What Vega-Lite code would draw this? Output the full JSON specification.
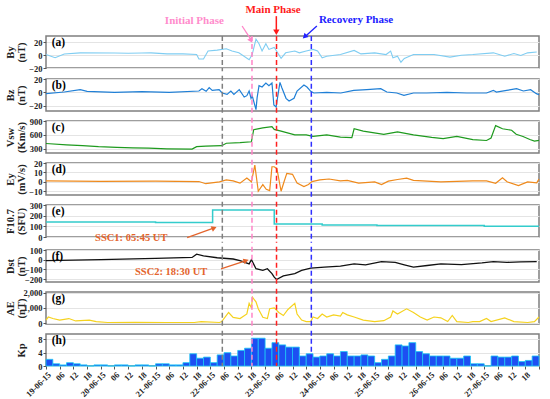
{
"$schema":"https://vega.github.io/schema/vega-lite/v6.json",
"background":"white",
"padding":{"left":4,"top":3,"right":5,"bottom":2},
"config":{
 "view":{"stroke":"#7f7f7f","strokeWidth":1.5},
 "concat":{"spacing":0},
 "axis":{"labelFont":"Liberation Serif","labelFontWeight":"bold","labelFontSize":8.5,"labelColor":"#222","titleFont":"Liberation Serif","titleFontWeight":"bold","titleFontSize":10.5,"titleLineHeight":11,"titleColor":"#222","gridColor":"#e4e4e4","domain":false,"tickColor":"#555","tickSize":3,"labelPadding":1,"titlePadding":2},
 "text":{"font":"Liberation Serif","fontWeight":"bold"}
},
"datasets":{
"events":[{"t":"2015-06-22T05:15","c":"g"},{"t":"2015-06-22T18:15","c":"p"},{"t":"2015-06-23T05:00","c":"r"},{"t":"2015-06-23T20:15","c":"b"}],
"by":[{"t":"2015-06-19T00:00","v":1},{"t":"2015-06-19T04:00","v":-4},{"t":"2015-06-19T08:00","v":2},{"t":"2015-06-19T15:00","v":3.7},{"t":"2015-06-20T06:00","v":3.5},{"t":"2015-06-20T12:00","v":3},{"t":"2015-06-20T18:00","v":3.5},{"t":"2015-06-20T22:00","v":3.7},{"t":"2015-06-21T05:00","v":2},{"t":"2015-06-21T12:00","v":2},{"t":"2015-06-21T18:00","v":1},{"t":"2015-06-21T19:00","v":-6},{"t":"2015-06-21T21:00","v":-6},{"t":"2015-06-21T23:00","v":6.5},{"t":"2015-06-22T03:00","v":8},{"t":"2015-06-22T07:00","v":10},{"t":"2015-06-22T09:30","v":6.5},{"t":"2015-06-22T12:30","v":3.7},{"t":"2015-06-22T17:00","v":-7},{"t":"2015-06-22T18:20","v":1},{"t":"2015-06-22T20:00","v":25},{"t":"2015-06-22T21:20","v":18},{"t":"2015-06-22T22:40","v":6.5},{"t":"2015-06-23T00:20","v":18},{"t":"2015-06-23T01:40","v":9},{"t":"2015-06-23T04:00","v":12},{"t":"2015-06-23T05:00","v":6.5},{"t":"2015-06-23T07:00","v":-5},{"t":"2015-06-23T09:00","v":3.7},{"t":"2015-06-23T13:00","v":6.5},{"t":"2015-06-23T15:00","v":3.7},{"t":"2015-06-23T18:00","v":6.5},{"t":"2015-06-23T21:00","v":9},{"t":"2015-06-23T23:00","v":6.5},{"t":"2015-06-24T01:00","v":-4},{"t":"2015-06-24T03:00","v":-1.6},{"t":"2015-06-24T09:00","v":1},{"t":"2015-06-24T15:00","v":7.5},{"t":"2015-06-24T18:00","v":2},{"t":"2015-06-25T00:00","v":3.7},{"t":"2015-06-25T05:00","v":1},{"t":"2015-06-25T07:00","v":6.5},{"t":"2015-06-25T08:00","v":-4},{"t":"2015-06-25T10:00","v":-1.6},{"t":"2015-06-25T11:30","v":-11},{"t":"2015-06-25T13:00","v":-5},{"t":"2015-06-25T17:00","v":1},{"t":"2015-06-26T02:00","v":1},{"t":"2015-06-26T09:00","v":-3},{"t":"2015-06-26T14:00","v":0},{"t":"2015-06-26T19:00","v":1},{"t":"2015-06-27T04:00","v":3.7},{"t":"2015-06-27T09:00","v":-1.6},{"t":"2015-06-27T13:00","v":2.7},{"t":"2015-06-27T16:00","v":-0.5},{"t":"2015-06-27T19:00","v":3.7},{"t":"2015-06-27T23:00","v":5}],
"bz":[{"t":"2015-06-19T00:00","v":-2},{"t":"2015-06-19T08:00","v":0.5},{"t":"2015-06-19T15:00","v":4},{"t":"2015-06-19T18:00","v":1.5},{"t":"2015-06-20T06:00","v":0},{"t":"2015-06-20T18:00","v":1},{"t":"2015-06-21T06:00","v":0},{"t":"2015-06-21T19:00","v":2},{"t":"2015-06-21T20:20","v":5.5},{"t":"2015-06-21T22:10","v":1.5},{"t":"2015-06-21T23:30","v":7},{"t":"2015-06-22T00:50","v":3},{"t":"2015-06-22T03:50","v":4},{"t":"2015-06-22T05:10","v":-1},{"t":"2015-06-22T07:20","v":-3},{"t":"2015-06-22T09:00","v":2},{"t":"2015-06-22T10:20","v":-3},{"t":"2015-06-22T12:40","v":4},{"t":"2015-06-22T14:50","v":-7},{"t":"2015-06-22T16:00","v":-5},{"t":"2015-06-22T17:00","v":2},{"t":"2015-06-22T17:50","v":-9},{"t":"2015-06-22T18:20","v":-5},{"t":"2015-06-22T20:00","v":-26},{"t":"2015-06-22T20:30","v":-8},{"t":"2015-06-22T21:20","v":10},{"t":"2015-06-22T22:40","v":8},{"t":"2015-06-23T00:20","v":14},{"t":"2015-06-23T01:40","v":10},{"t":"2015-06-23T03:00","v":14},{"t":"2015-06-23T03:50","v":-19},{"t":"2015-06-23T04:50","v":-22},{"t":"2015-06-23T05:10","v":-14},{"t":"2015-06-23T06:30","v":15},{"t":"2015-06-23T07:20","v":7},{"t":"2015-06-23T09:10","v":-9},{"t":"2015-06-23T10:30","v":-13},{"t":"2015-06-23T12:40","v":-9},{"t":"2015-06-23T14:00","v":2},{"t":"2015-06-23T17:00","v":11},{"t":"2015-06-23T18:20","v":8},{"t":"2015-06-23T20:00","v":1.5},{"t":"2015-06-23T21:20","v":-1},{"t":"2015-06-24T03:00","v":0},{"t":"2015-06-24T09:10","v":-1},{"t":"2015-06-24T14:50","v":3},{"t":"2015-06-24T20:30","v":4},{"t":"2015-06-25T02:40","v":5.5},{"t":"2015-06-25T05:20","v":0.5},{"t":"2015-06-25T09:40","v":-1},{"t":"2015-06-25T12:50","v":-4.5},{"t":"2015-06-25T17:00","v":-1},{"t":"2015-06-25T22:50","v":-1},{"t":"2015-06-26T07:40","v":0},{"t":"2015-06-26T16:20","v":-1},{"t":"2015-06-27T01:00","v":-1},{"t":"2015-06-27T04:00","v":3},{"t":"2015-06-27T05:20","v":0.5},{"t":"2015-06-27T09:50","v":3},{"t":"2015-06-27T14:10","v":5.5},{"t":"2015-06-27T17:10","v":2},{"t":"2015-06-27T20:20","v":4},{"t":"2015-06-27T22:50","v":-2},{"t":"2015-06-28T00:00","v":-3.5}],
"vsw":[{"t":"2015-06-19T00:00","v":415},{"t":"2015-06-19T09:00","v":387},{"t":"2015-06-19T16:00","v":367},{"t":"2015-06-19T23:00","v":347},{"t":"2015-06-20T07:00","v":333},{"t":"2015-06-20T14:00","v":320},{"t":"2015-06-20T21:00","v":313},{"t":"2015-06-21T05:00","v":300},{"t":"2015-06-21T16:00","v":293},{"t":"2015-06-21T18:00","v":347},{"t":"2015-06-21T22:00","v":360},{"t":"2015-06-22T05:00","v":367},{"t":"2015-06-22T07:00","v":420},{"t":"2015-06-22T13:00","v":433},{"t":"2015-06-22T18:00","v":453},{"t":"2015-06-22T19:00","v":713},{"t":"2015-06-22T23:00","v":753},{"t":"2015-06-23T03:00","v":780},{"t":"2015-06-23T04:00","v":720},{"t":"2015-06-23T07:00","v":680},{"t":"2015-06-23T13:00","v":600},{"t":"2015-06-23T18:00","v":600},{"t":"2015-06-23T21:00","v":567},{"t":"2015-06-24T03:00","v":600},{"t":"2015-06-24T09:00","v":553},{"t":"2015-06-24T14:00","v":540},{"t":"2015-06-24T15:00","v":733},{"t":"2015-06-24T19:00","v":680},{"t":"2015-06-25T04:00","v":613},{"t":"2015-06-25T10:00","v":667},{"t":"2015-06-25T17:00","v":600},{"t":"2015-06-26T01:00","v":547},{"t":"2015-06-26T06:00","v":520},{"t":"2015-06-26T12:00","v":567},{"t":"2015-06-26T19:00","v":500},{"t":"2015-06-27T01:00","v":480},{"t":"2015-06-27T03:00","v":533},{"t":"2015-06-27T05:00","v":800},{"t":"2015-06-27T08:00","v":733},{"t":"2015-06-27T12:00","v":700},{"t":"2015-06-27T14:00","v":613},{"t":"2015-06-27T17:00","v":567},{"t":"2015-06-27T20:00","v":500},{"t":"2015-06-27T22:00","v":467},{"t":"2015-06-28T00:00","v":483}],
"ey":[{"t":"2015-06-19T00:00","v":1},{"t":"2015-06-20T00:00","v":0.5},{"t":"2015-06-21T00:00","v":0.8},{"t":"2015-06-21T19:00","v":0.3},{"t":"2015-06-21T22:00","v":-2},{"t":"2015-06-22T04:00","v":0},{"t":"2015-06-22T07:00","v":2},{"t":"2015-06-22T10:00","v":1},{"t":"2015-06-22T13:00","v":-1.4},{"t":"2015-06-22T16:00","v":4},{"t":"2015-06-22T18:00","v":0},{"t":"2015-06-22T19:30","v":17.7},{"t":"2015-06-22T21:00","v":-10},{"t":"2015-06-22T23:00","v":-3},{"t":"2015-06-23T00:30","v":-8},{"t":"2015-06-23T02:00","v":-9.4},{"t":"2015-06-23T03:00","v":16},{"t":"2015-06-23T04:00","v":16},{"t":"2015-06-23T05:10","v":14},{"t":"2015-06-23T07:00","v":-10},{"t":"2015-06-23T08:20","v":0.3},{"t":"2015-06-23T09:30","v":9},{"t":"2015-06-23T12:00","v":8},{"t":"2015-06-23T14:00","v":-1.4},{"t":"2015-06-23T17:00","v":-5},{"t":"2015-06-23T19:00","v":-2.8},{"t":"2015-06-23T20:30","v":0.3},{"t":"2015-06-24T00:00","v":2},{"t":"2015-06-24T04:00","v":3},{"t":"2015-06-24T09:00","v":1},{"t":"2015-06-24T12:00","v":1.5},{"t":"2015-06-24T17:00","v":-1.4},{"t":"2015-06-25T00:00","v":0},{"t":"2015-06-25T03:00","v":-3},{"t":"2015-06-25T06:00","v":0.7},{"t":"2015-06-25T10:00","v":2.5},{"t":"2015-06-25T14:00","v":4},{"t":"2015-06-25T17:00","v":1.5},{"t":"2015-06-26T05:00","v":0},{"t":"2015-06-26T19:00","v":1},{"t":"2015-06-27T01:00","v":1},{"t":"2015-06-27T05:00","v":-1.5},{"t":"2015-06-27T08:00","v":4.2},{"t":"2015-06-27T10:00","v":0},{"t":"2015-06-27T15:00","v":-4},{"t":"2015-06-27T19:00","v":0},{"t":"2015-06-27T23:00","v":-1},{"t":"2015-06-28T00:00","v":3}],
"f107":[{"t":"2015-06-19T00:00","v":140},{"t":"2015-06-21T00:00","v":136},{"t":"2015-06-22T01:00","v":252},{"t":"2015-06-23T04:00","v":122},{"t":"2015-06-24T01:00","v":113},{"t":"2015-06-25T01:00","v":107},{"t":"2015-06-27T00:00","v":100},{"t":"2015-06-28T00:00","v":100}],
"dst":[{"t":"2015-06-19T00:00","v":-10},{"t":"2015-06-19T12:00","v":-5},{"t":"2015-06-20T00:00","v":0},{"t":"2015-06-21T00:00","v":13},{"t":"2015-06-21T16:00","v":23},{"t":"2015-06-21T18:00","v":57},{"t":"2015-06-21T21:00","v":40},{"t":"2015-06-22T03:00","v":20},{"t":"2015-06-22T10:00","v":7},{"t":"2015-06-22T13:00","v":-10},{"t":"2015-06-22T17:00","v":-43},{"t":"2015-06-22T18:00","v":0},{"t":"2015-06-22T20:00","v":-93},{"t":"2015-06-22T23:00","v":-110},{"t":"2015-06-23T01:00","v":-93},{"t":"2015-06-23T03:00","v":-143},{"t":"2015-06-23T04:00","v":-180},{"t":"2015-06-23T05:00","v":-204},{"t":"2015-06-23T08:00","v":-167},{"t":"2015-06-23T13:00","v":-143},{"t":"2015-06-23T16:00","v":-110},{"t":"2015-06-23T20:00","v":-87},{"t":"2015-06-24T02:00","v":-77},{"t":"2015-06-24T09:00","v":-67},{"t":"2015-06-24T15:00","v":-43},{"t":"2015-06-24T20:00","v":-53},{"t":"2015-06-25T03:00","v":-20},{"t":"2015-06-25T09:00","v":-27},{"t":"2015-06-25T13:00","v":-53},{"t":"2015-06-25T17:00","v":-77},{"t":"2015-06-25T23:00","v":-60},{"t":"2015-06-26T05:00","v":-43},{"t":"2015-06-26T14:00","v":-50},{"t":"2015-06-26T23:00","v":-33},{"t":"2015-06-27T04:00","v":-20},{"t":"2015-06-27T10:00","v":-27},{"t":"2015-06-27T16:00","v":-23},{"t":"2015-06-27T23:00","v":-20}],
"ae":[{"t":"2015-06-19T00:00","v":200},{"t":"2015-06-19T01:00","v":400},{"t":"2015-06-19T03:00","v":300},{"t":"2015-06-19T06:00","v":200},{"t":"2015-06-19T10:00","v":300},{"t":"2015-06-19T13:00","v":140},{"t":"2015-06-19T19:00","v":200},{"t":"2015-06-19T22:00","v":100},{"t":"2015-06-20T03:00","v":40},{"t":"2015-06-20T15:00","v":50},{"t":"2015-06-21T05:00","v":40},{"t":"2015-06-21T17:00","v":40},{"t":"2015-06-21T20:00","v":100},{"t":"2015-06-22T04:00","v":40},{"t":"2015-06-22T05:00","v":100},{"t":"2015-06-22T08:00","v":700},{"t":"2015-06-22T10:00","v":380},{"t":"2015-06-22T13:00","v":300},{"t":"2015-06-22T16:00","v":600},{"t":"2015-06-22T17:00","v":1300},{"t":"2015-06-22T18:00","v":1000},{"t":"2015-06-22T18:30","v":1700},{"t":"2015-06-22T20:00","v":1400},{"t":"2015-06-22T21:00","v":950},{"t":"2015-06-22T23:00","v":380},{"t":"2015-06-23T01:00","v":300},{"t":"2015-06-23T02:00","v":950},{"t":"2015-06-23T04:00","v":1000},{"t":"2015-06-23T06:00","v":700},{"t":"2015-06-23T08:00","v":500},{"t":"2015-06-23T10:00","v":900},{"t":"2015-06-23T13:00","v":1300},{"t":"2015-06-23T14:00","v":600},{"t":"2015-06-23T16:00","v":200},{"t":"2015-06-23T18:00","v":100},{"t":"2015-06-23T20:00","v":100},{"t":"2015-06-23T21:00","v":400},{"t":"2015-06-23T23:00","v":300},{"t":"2015-06-24T01:00","v":600},{"t":"2015-06-24T03:00","v":400},{"t":"2015-06-24T06:00","v":540},{"t":"2015-06-24T09:00","v":460},{"t":"2015-06-24T10:00","v":700},{"t":"2015-06-24T12:00","v":540},{"t":"2015-06-24T15:00","v":400},{"t":"2015-06-24T19:00","v":200},{"t":"2015-06-25T00:00","v":100},{"t":"2015-06-25T04:00","v":160},{"t":"2015-06-25T07:00","v":400},{"t":"2015-06-25T08:00","v":800},{"t":"2015-06-25T10:00","v":600},{"t":"2015-06-25T14:00","v":940},{"t":"2015-06-25T17:00","v":700},{"t":"2015-06-25T20:00","v":400},{"t":"2015-06-25T23:00","v":200},{"t":"2015-06-26T02:00","v":400},{"t":"2015-06-26T05:00","v":350},{"t":"2015-06-26T08:00","v":100},{"t":"2015-06-26T10:00","v":500},{"t":"2015-06-26T12:00","v":100},{"t":"2015-06-26T17:00","v":40},{"t":"2015-06-26T19:00","v":100},{"t":"2015-06-26T22:00","v":100},{"t":"2015-06-27T01:00","v":300},{"t":"2015-06-27T03:00","v":100},{"t":"2015-06-27T09:00","v":340},{"t":"2015-06-27T13:00","v":100},{"t":"2015-06-27T19:00","v":40},{"t":"2015-06-27T22:00","v":100},{"t":"2015-06-28T00:00","v":400}],
"kp":[{"t":"2015-06-19T00:00","e":"2015-06-19T03:00","v":2},{"t":"2015-06-19T03:00","e":"2015-06-19T06:00","v":0.67},{"t":"2015-06-19T06:00","e":"2015-06-19T09:00","v":0.33},{"t":"2015-06-19T09:00","e":"2015-06-19T12:00","v":1},{"t":"2015-06-19T12:00","e":"2015-06-19T15:00","v":0.67},{"t":"2015-06-19T15:00","e":"2015-06-19T18:00","v":0.33},{"t":"2015-06-19T18:00","e":"2015-06-19T21:00","v":0},{"t":"2015-06-19T21:00","e":"2015-06-20T00:00","v":0.33},
{"t":"2015-06-20T00:00","e":"2015-06-20T03:00","v":0.33},{"t":"2015-06-20T03:00","e":"2015-06-20T06:00","v":0},{"t":"2015-06-20T06:00","e":"2015-06-20T09:00","v":0.33},{"t":"2015-06-20T09:00","e":"2015-06-20T12:00","v":0.33},{"t":"2015-06-20T12:00","e":"2015-06-20T15:00","v":0},{"t":"2015-06-20T15:00","e":"2015-06-20T18:00","v":0.33},{"t":"2015-06-20T18:00","e":"2015-06-20T21:00","v":0.33},{"t":"2015-06-20T21:00","e":"2015-06-21T00:00","v":0},
{"t":"2015-06-21T00:00","e":"2015-06-21T03:00","v":0.67},{"t":"2015-06-21T03:00","e":"2015-06-21T06:00","v":0.67},{"t":"2015-06-21T06:00","e":"2015-06-21T09:00","v":0.33},{"t":"2015-06-21T09:00","e":"2015-06-21T12:00","v":0.33},{"t":"2015-06-21T12:00","e":"2015-06-21T15:00","v":1},{"t":"2015-06-21T15:00","e":"2015-06-21T18:00","v":3.67},{"t":"2015-06-21T18:00","e":"2015-06-21T21:00","v":2.33},{"t":"2015-06-21T21:00","e":"2015-06-22T00:00","v":2.67},
{"t":"2015-06-22T00:00","e":"2015-06-22T03:00","v":1},{"t":"2015-06-22T03:00","e":"2015-06-22T06:00","v":3.33},{"t":"2015-06-22T06:00","e":"2015-06-22T09:00","v":4},{"t":"2015-06-22T09:00","e":"2015-06-22T12:00","v":3},{"t":"2015-06-22T12:00","e":"2015-06-22T15:00","v":4.67},{"t":"2015-06-22T15:00","e":"2015-06-22T18:00","v":5.33},{"t":"2015-06-22T18:00","e":"2015-06-22T21:00","v":8.33},{"t":"2015-06-22T21:00","e":"2015-06-23T00:00","v":8.33},
{"t":"2015-06-23T00:00","e":"2015-06-23T03:00","v":5.33},{"t":"2015-06-23T03:00","e":"2015-06-23T06:00","v":7},{"t":"2015-06-23T06:00","e":"2015-06-23T09:00","v":6.33},{"t":"2015-06-23T09:00","e":"2015-06-23T12:00","v":5.67},{"t":"2015-06-23T12:00","e":"2015-06-23T15:00","v":5.67},{"t":"2015-06-23T15:00","e":"2015-06-23T18:00","v":3},{"t":"2015-06-23T18:00","e":"2015-06-23T21:00","v":3.67},{"t":"2015-06-23T21:00","e":"2015-06-24T00:00","v":2.67},
{"t":"2015-06-24T00:00","e":"2015-06-24T03:00","v":3},{"t":"2015-06-24T03:00","e":"2015-06-24T06:00","v":3.67},{"t":"2015-06-24T06:00","e":"2015-06-24T09:00","v":3},{"t":"2015-06-24T09:00","e":"2015-06-24T12:00","v":4.33},{"t":"2015-06-24T12:00","e":"2015-06-24T15:00","v":3},{"t":"2015-06-24T15:00","e":"2015-06-24T18:00","v":3},{"t":"2015-06-24T18:00","e":"2015-06-24T21:00","v":3.33},{"t":"2015-06-24T21:00","e":"2015-06-25T00:00","v":3},
{"t":"2015-06-25T00:00","e":"2015-06-25T03:00","v":1},{"t":"2015-06-25T03:00","e":"2015-06-25T06:00","v":2},{"t":"2015-06-25T06:00","e":"2015-06-25T09:00","v":3},{"t":"2015-06-25T09:00","e":"2015-06-25T12:00","v":6.33},{"t":"2015-06-25T12:00","e":"2015-06-25T15:00","v":6},{"t":"2015-06-25T15:00","e":"2015-06-25T18:00","v":7},{"t":"2015-06-25T18:00","e":"2015-06-25T21:00","v":4.33},{"t":"2015-06-25T21:00","e":"2015-06-26T00:00","v":3.67},
{"t":"2015-06-26T00:00","e":"2015-06-26T03:00","v":3},{"t":"2015-06-26T03:00","e":"2015-06-26T06:00","v":3},{"t":"2015-06-26T06:00","e":"2015-06-26T09:00","v":3},{"t":"2015-06-26T09:00","e":"2015-06-26T12:00","v":2.33},{"t":"2015-06-26T12:00","e":"2015-06-26T15:00","v":2.33},{"t":"2015-06-26T15:00","e":"2015-06-26T18:00","v":3},{"t":"2015-06-26T18:00","e":"2015-06-26T21:00","v":0.67},{"t":"2015-06-26T21:00","e":"2015-06-27T00:00","v":0.67},
{"t":"2015-06-27T00:00","e":"2015-06-27T03:00","v":0},{"t":"2015-06-27T03:00","e":"2015-06-27T06:00","v":3},{"t":"2015-06-27T06:00","e":"2015-06-27T09:00","v":2.67},{"t":"2015-06-27T09:00","e":"2015-06-27T12:00","v":2.67},{"t":"2015-06-27T12:00","e":"2015-06-27T15:00","v":3},{"t":"2015-06-27T15:00","e":"2015-06-27T18:00","v":1.33},{"t":"2015-06-27T18:00","e":"2015-06-27T21:00","v":1.67},{"t":"2015-06-27T21:00","e":"2015-06-28T00:00","v":3}]
},
"vconcat":[
{"width":493,"height":32,"resolve":{"axis":{"x":"independent","y":"independent"}},"layer":[
 {"data":{"name":"by"},"mark":{"type":"line","color":"#7fcdf2","strokeWidth":1.1},"encoding":{"x":{"field":"t","type":"temporal","scale":{"domain":["2015-06-19T00:00","2015-06-28T00:00"]},"axis":null},"y":{"field":"v","type":"quantitative","scale":{"domain":[-20,30],"nice":false,"zero":false},"axis":{"values":[-20,0,20],"title":["By","(nT)"],"minExtent":18,"maxExtent":18}}}},
 {"data":{"name":"events"},"mark":{"type":"rule","strokeDash":[5,3],"strokeWidth":1.5},"encoding":{"x":{"field":"t","type":"temporal","axis":null},"y":{"datum":30,"axis":null},"y2":{"datum":-25},"color":{"field":"c","type":"nominal","scale":{"domain":["g","p","r","b"],"range":["#7f7f7f","#ff85c8","#ff2020","#3030ff"]},"legend":null}}},
 {"data":{"values":[{"t":"2015-06-19T02:30","s":"(a)"}]},"mark":{"type":"text","align":"left","baseline":"middle","fontSize":11.5},"encoding":{"x":{"field":"t","type":"temporal","axis":null},"y":{"datum":19,"axis":null},"text":{"field":"s"}}},
 {"data":{"values":[{"t":"2015-06-21T17:00","s":"Initial Phase"}]},"mark":{"type":"text","baseline":"middle","fontSize":11,"color":"#ff8ccc"},"encoding":{"x":{"field":"t","type":"temporal","axis":null},"y":{"datum":52.7,"axis":null},"text":{"field":"s"}}},
 {"data":{"values":[{"t":"2015-06-23T03:30","s":"Main Phase"}]},"mark":{"type":"text","baseline":"middle","fontSize":11,"color":"#ff1a1a"},"encoding":{"x":{"field":"t","type":"temporal","axis":null},"y":{"datum":70.6,"axis":null},"text":{"field":"s"}}},
 {"data":{"values":[{"t":"2015-06-24T15:50","s":"Recovery Phase"}]},"mark":{"type":"text","baseline":"middle","fontSize":11,"color":"#2020ff"},"encoding":{"x":{"field":"t","type":"temporal","axis":null},"y":{"datum":54.5,"axis":null},"text":{"field":"s"}}},
 {"data":{"values":[{"t1":"2015-06-22T13:55","t2":"2015-06-22T17:40"}]},"mark":{"type":"rule","color":"#ff85c8","strokeWidth":1.3},"encoding":{"x":{"field":"t1","type":"temporal","axis":null},"x2":{"field":"t2"},"y":{"datum":45.6,"axis":null},"y2":{"datum":25}}},
 {"data":{"values":[{"t":"2015-06-22T17:50"}]},"mark":{"type":"point","shape":"triangle-up","filled":true,"size":35,"angle":150,"color":"#ff85c8","opacity":1},"encoding":{"x":{"field":"t","type":"temporal","axis":null},"y":{"datum":23,"axis":null}}},
 {"data":{"values":[{"t1":"2015-06-23T04:55","t2":"2015-06-23T04:55"}]},"mark":{"type":"rule","color":"#ff1a1a","strokeWidth":1.5},"encoding":{"x":{"field":"t1","type":"temporal","axis":null},"x2":{"field":"t2"},"y":{"datum":61,"axis":null},"y2":{"datum":38}}},
 {"data":{"values":[{"t":"2015-06-23T04:55"}]},"mark":{"type":"point","shape":"triangle-up","filled":true,"size":40,"angle":180,"color":"#ff1a1a","opacity":1},"encoding":{"x":{"field":"t","type":"temporal","axis":null},"y":{"datum":36,"axis":null}}},
 {"data":{"values":[{"t1":"2015-06-23T22:40","t2":"2015-06-23T17:50"}]},"mark":{"type":"rule","color":"#2020ff","strokeWidth":1.3},"encoding":{"x":{"field":"t1","type":"temporal","axis":null},"x2":{"field":"t2"},"y":{"datum":45.6,"axis":null},"y2":{"datum":30}}},
 {"data":{"values":[{"t":"2015-06-23T17:20"}]},"mark":{"type":"point","shape":"triangle-up","filled":true,"size":35,"angle":227,"color":"#2020ff","opacity":1},"encoding":{"x":{"field":"t","type":"temporal","axis":null},"y":{"datum":29,"axis":null}}}
]},
{"width":493,"height":32,"resolve":{"axis":{"x":"independent","y":"independent"}},"layer":[
 {"data":{"name":"bz"},"mark":{"type":"line","color":"#1f7fd6","strokeWidth":1.2},"encoding":{"x":{"field":"t","type":"temporal","scale":{"domain":["2015-06-19T00:00","2015-06-28T00:00"]},"axis":null},"y":{"field":"v","type":"quantitative","scale":{"domain":[-28,20],"nice":false,"zero":false},"axis":{"values":[-20,0,20],"title":["Bz","(nT)"],"minExtent":18,"maxExtent":18}}}},
 {"data":{"name":"events"},"mark":{"type":"rule","strokeDash":[5,3],"strokeWidth":1.5},"encoding":{"x":{"field":"t","type":"temporal","axis":null},"y":{"datum":24.8,"axis":null},"y2":{"datum":-32.8},"color":{"field":"c","type":"nominal","scale":{"domain":["g","p","r","b"],"range":["#7f7f7f","#ff85c8","#ff2020","#3030ff"]},"legend":null}}},
 {"data":{"values":[{"t":"2015-06-19T02:30","s":"(b)"}]},"mark":{"type":"text","align":"left","baseline":"middle","fontSize":11.5},"encoding":{"x":{"field":"t","type":"temporal","axis":null},"y":{"datum":9.5,"axis":null},"text":{"field":"s"}}}
]},
{"width":493,"height":32,"resolve":{"axis":{"x":"independent","y":"independent"}},"layer":[
 {"data":{"name":"vsw"},"mark":{"type":"line","color":"#1e9a1e","strokeWidth":1.2},"encoding":{"x":{"field":"t","type":"temporal","scale":{"domain":["2015-06-19T00:00","2015-06-28T00:00"]},"axis":null},"y":{"field":"v","type":"quantitative","scale":{"domain":[210,900],"nice":false,"zero":false},"axis":{"values":[300,600,900],"title":["Vsw","(Km/s)"],"minExtent":18,"maxExtent":18}}}},
 {"data":{"name":"events"},"mark":{"type":"rule","strokeDash":[5,3],"strokeWidth":1.5},"encoding":{"x":{"field":"t","type":"temporal","axis":null},"y":{"datum":969,"axis":null},"y2":{"datum":141},"color":{"field":"c","type":"nominal","scale":{"domain":["g","p","r","b"],"range":["#7f7f7f","#ff85c8","#ff2020","#3030ff"]},"legend":null}}},
 {"data":{"values":[{"t":"2015-06-19T02:30","s":"(c)"}]},"mark":{"type":"text","align":"left","baseline":"middle","fontSize":11.5},"encoding":{"x":{"field":"t","type":"temporal","axis":null},"y":{"datum":745,"axis":null},"text":{"field":"s"}}}
]},
{"width":493,"height":32,"resolve":{"axis":{"x":"independent","y":"independent"}},"layer":[
 {"data":{"name":"ey"},"mark":{"type":"line","color":"#ef8a1c","strokeWidth":1.2},"encoding":{"x":{"field":"t","type":"temporal","scale":{"domain":["2015-06-19T00:00","2015-06-28T00:00"]},"axis":null},"y":{"field":"v","type":"quantitative","scale":{"domain":[-14,20],"nice":false,"zero":false},"axis":{"values":[-10,0,10,20],"title":["Ey","(mV/s)"],"minExtent":18,"maxExtent":18}}}},
 {"data":{"name":"events"},"mark":{"type":"rule","strokeDash":[5,3],"strokeWidth":1.5},"encoding":{"x":{"field":"t","type":"temporal","axis":null},"y":{"datum":23.4,"axis":null},"y2":{"datum":-17.4},"color":{"field":"c","type":"nominal","scale":{"domain":["g","p","r","b"],"range":["#7f7f7f","#ff85c8","#ff2020","#3030ff"]},"legend":null}}},
 {"data":{"values":[{"t":"2015-06-19T02:30","s":"(d)"}]},"mark":{"type":"text","align":"left","baseline":"middle","fontSize":11.5},"encoding":{"x":{"field":"t","type":"temporal","axis":null},"y":{"datum":12.5,"axis":null},"text":{"field":"s"}}}
]},
{"width":493,"height":32,"resolve":{"axis":{"x":"independent","y":"independent"}},"layer":[
 {"data":{"name":"f107"},"mark":{"type":"line","color":"#33cccc","strokeWidth":1.5,"interpolate":"step-after"},"encoding":{"x":{"field":"t","type":"temporal","scale":{"domain":["2015-06-19T00:00","2015-06-28T00:00"]},"axis":null},"y":{"field":"v","type":"quantitative","scale":{"domain":[0,300],"nice":false,"zero":false},"axis":{"values":[0,100,200,300],"title":["F10.7","(SFU)"],"minExtent":18,"maxExtent":18}}}},
 {"data":{"name":"events"},"mark":{"type":"rule","strokeDash":[5,3],"strokeWidth":1.5},"encoding":{"x":{"field":"t","type":"temporal","axis":null},"y":{"datum":330,"axis":null},"y2":{"datum":-55},"color":{"field":"c","type":"nominal","scale":{"domain":["g","p","r","b"],"range":["#7f7f7f","#ff85c8","#ff2020","#3030ff"]},"legend":null}}},
 {"data":{"values":[{"t":"2015-06-19T02:30","s":"(e)"}]},"mark":{"type":"text","align":"left","baseline":"middle","fontSize":11.5},"encoding":{"x":{"field":"t","type":"temporal","axis":null},"y":{"datum":232,"axis":null},"text":{"field":"s"}}},
 {"data":{"values":[{"t":"2015-06-20T13:20","s":"SSC1: 05:45 UT"}]},"mark":{"type":"text","baseline":"middle","fontSize":10.5,"color":"#e4642c"},"encoding":{"x":{"field":"t","type":"temporal","axis":null},"y":{"datum":-10,"axis":null},"text":{"field":"s"}}},
 {"data":{"values":[{"t1":"2015-06-21T13:50","t2":"2015-06-22T01:40"}]},"mark":{"type":"rule","color":"#e4642c","strokeWidth":1.2},"encoding":{"x":{"field":"t1","type":"temporal","axis":null},"x2":{"field":"t2"},"y":{"datum":-6,"axis":null},"y2":{"datum":85}}},
 {"data":{"values":[{"t":"2015-06-22T01:40"}]},"mark":{"type":"point","shape":"triangle-up","filled":true,"size":35,"angle":68,"color":"#e4642c","opacity":1},"encoding":{"x":{"field":"t","type":"temporal","axis":null},"y":{"datum":85,"axis":null}}}
]},
{"width":493,"height":32,"resolve":{"axis":{"x":"independent","y":"independent"}},"layer":[
 {"data":{"name":"dst"},"mark":{"type":"line","color":"#111111","strokeWidth":1.3},"encoding":{"x":{"field":"t","type":"temporal","scale":{"domain":["2015-06-19T00:00","2015-06-28T00:00"]},"axis":null},"y":{"field":"v","type":"quantitative","scale":{"domain":[-230,100],"nice":false,"zero":false},"axis":{"values":[-200,-100,0,100],"title":["Dst","(nT)"],"minExtent":18,"maxExtent":18}}}},
 {"data":{"name":"events"},"mark":{"type":"rule","strokeDash":[5,3],"strokeWidth":1.5},"encoding":{"x":{"field":"t","type":"temporal","axis":null},"y":{"datum":133,"axis":null},"y2":{"datum":-263},"color":{"field":"c","type":"nominal","scale":{"domain":["g","p","r","b"],"range":["#7f7f7f","#ff85c8","#ff2020","#3030ff"]},"legend":null}}},
 {"data":{"values":[{"t":"2015-06-19T02:30","s":"(f)"}]},"mark":{"type":"text","align":"left","baseline":"middle","fontSize":11.5},"encoding":{"x":{"field":"t","type":"temporal","axis":null},"y":{"datum":28,"axis":null},"text":{"field":"s"}}},
 {"data":{"values":[{"t":"2015-06-21T06:50","s":"SSC2: 18:30 UT"}]},"mark":{"type":"text","baseline":"middle","fontSize":10.5,"color":"#e4642c"},"encoding":{"x":{"field":"t","type":"temporal","axis":null},"y":{"datum":-130,"axis":null},"text":{"field":"s"}}},
 {"data":{"values":[{"t1":"2015-06-22T04:40","t2":"2015-06-22T15:40"}]},"mark":{"type":"rule","color":"#e4642c","strokeWidth":1.2},"encoding":{"x":{"field":"t1","type":"temporal","axis":null},"x2":{"field":"t2"},"y":{"datum":-95,"axis":null},"y2":{"datum":-10}}},
 {"data":{"values":[{"t":"2015-06-22T15:40"}]},"mark":{"type":"point","shape":"triangle-up","filled":true,"size":35,"angle":72,"color":"#e4642c","opacity":1},"encoding":{"x":{"field":"t","type":"temporal","axis":null},"y":{"datum":-10,"axis":null}}}
]},
{"width":493,"height":32,"resolve":{"axis":{"x":"independent","y":"independent"}},"layer":[
 {"data":{"name":"ae"},"mark":{"type":"line","color":"#f5d21e","strokeWidth":1.2},"encoding":{"x":{"field":"t","type":"temporal","scale":{"domain":["2015-06-19T00:00","2015-06-28T00:00"]},"axis":null},"y":{"field":"v","type":"quantitative","scale":{"domain":[-60,2050],"nice":false,"zero":false},"axis":{"values":[0,1000,2000],"title":["AE","(nT)"],"minExtent":18,"maxExtent":18}}}},
 {"data":{"name":"events"},"mark":{"type":"rule","strokeDash":[5,3],"strokeWidth":1.5},"encoding":{"x":{"field":"t","type":"temporal","axis":null},"y":{"datum":2261,"axis":null},"y2":{"datum":-271},"color":{"field":"c","type":"nominal","scale":{"domain":["g","p","r","b"],"range":["#7f7f7f","#ff85c8","#ff2020","#3030ff"]},"legend":null}}},
 {"data":{"values":[{"t":"2015-06-19T02:30","s":"(g)"}]},"mark":{"type":"text","align":"left","baseline":"middle","fontSize":11.5},"encoding":{"x":{"field":"t","type":"temporal","axis":null},"y":{"datum":1580,"axis":null},"text":{"field":"s"}}}
]},
{"width":493,"height":32,"resolve":{"axis":{"x":"independent","y":"independent"}},"layer":[
 {"data":{"name":"kp"},"mark":{"type":"bar","color":"#1d4ff2","stroke":"#19c6f5","strokeWidth":0.8},"encoding":{"x":{"field":"t","type":"temporal","scale":{"domain":["2015-06-19T00:00","2015-06-28T00:00"]},"axis":{"title":null,"tickCount":36,"labelAngle":-45,"labelExpr":"date(datum.value) == 28 ? '' : (hours(datum.value) == 0 ? timeFormat(datum.value, '%d-%m-%y') : timeFormat(datum.value, '%H'))","labelOverlap":false,"grid":false,"labelFontSize":8.5,"tickSize":3,"labelPadding":1}},"x2":{"field":"e"},"y":{"field":"v","type":"quantitative","scale":{"domain":[0,9.6],"nice":false,"zero":false},"axis":{"values":[0,4,8],"title":"Kp","minExtent":18,"maxExtent":18}},"y2":{"datum":0}}},
 {"data":{"name":"events"},"mark":{"type":"rule","strokeDash":[5,3],"strokeWidth":1.5},"encoding":{"x":{"field":"t","type":"temporal","axis":null},"y":{"datum":10.6,"axis":null},"y2":{"datum":0},"color":{"field":"c","type":"nominal","scale":{"domain":["g","p","r","b"],"range":["#7f7f7f","#ff85c8","#ff2020","#3030ff"]},"legend":null}}},
 {"data":{"values":[{"t":"2015-06-19T02:30","s":"(h)"}]},"mark":{"type":"text","align":"left","baseline":"middle","fontSize":11.5},"encoding":{"x":{"field":"t","type":"temporal","axis":null},"y":{"datum":7.5,"axis":null},"text":{"field":"s"}}}
]}
]
}
